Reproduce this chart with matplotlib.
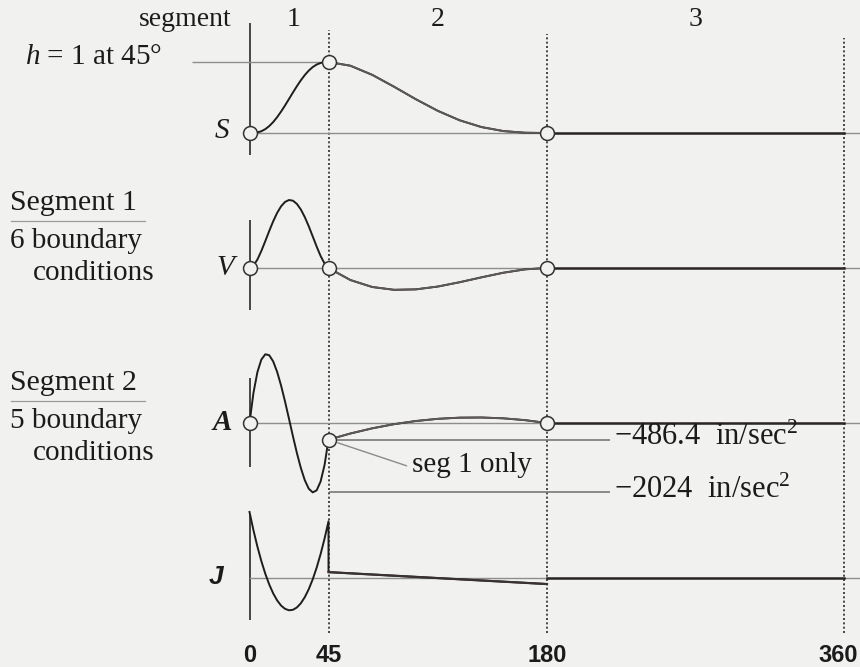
import numpy as np
import matplotlib
matplotlib.use("Agg")
import matplotlib.pyplot as plt
from matplotlib.lines import Line2D

plt.rcParams['font.family'] = ['Liberation Serif', 'DejaVu Serif']
plt.rcParams['mathtext.fontset'] = 'custom'
plt.rcParams['mathtext.rm'] = 'Liberation Serif'
plt.rcParams['mathtext.it'] = 'Liberation Serif:italic'
plt.rcParams['mathtext.bf'] = 'Liberation Serif:bold'

# ---------------- data ----------------
# cam angle, degrees
THETA1 = [0, 2.25, 4.5, 6.75, 9, 11.25, 13.5, 15.75, 18, 20.25, 22.5,
          24.75, 27, 29.25, 31.5, 33.75, 36, 38.25, 40.5, 42.75, 45]
THETA2 = [45, 58.5, 72, 85.5, 99, 112.5, 126, 139.5, 153, 166.5, 180]
THETA3 = [180, 360]
THETA_J2 = [45, 180]

# displacement, in
S1 = [0, 0.0011, 0.0080, 0.0250, 0.0545, 0.0977, 0.1543, 0.2231, 0.3021, 0.3885, 0.4792,
      0.5707, 0.6595, 0.7424, 0.8163, 0.8789, 0.9284, 0.9642, 0.9866, 0.9974, 1.0]
S2 = [1.0, 0.9477, 0.8192, 0.6517, 0.4752, 0.3125, 0.1792, 0.0837, 0.0272, 0.0037, 0.0]
S3 = [0, 0]
# velocity, in/sec
V1 = [0, 1.21, 4.35, 8.77, 13.85, 19.10, 24.06, 28.39, 31.78, 34.03, 35.01,
      34.66, 33.00, 30.12, 26.20, 21.49, 16.30, 11.04, 6.19, 2.30, 0]
V2 = [0, -6.19, -9.78, -11.23, -11.00, -9.55, -7.33, -4.81, -2.44, -0.69, 0]
V3 = [0, 0]
# acceleration, in/sec^2
A1 = [0, 876.6, 1483.4, 1849.3, 2003.7, 1975.8, 1794.6, 1489.4, 1089.4, 623.7, 121.6,
      -387.9, -875.4, -1311.9, -1668.2, -1915.0, -2023.2, -1963.6, -1707.1, -1224.4, -486.4]
A2 = [-486.4, -306.4, -155.6, -34.0, 58.4, 121.6, 155.6, 160.5, 136.2, 82.7, 0]
A3 = [0, 0]
# jerk, thousands of in/sec^3
J1 = [390.1, 281.4, 183.9, 97.5, 22.3, -41.8, -94.7, -136.5, -167.2, -186.7, -195.1,
      -192.3, -178.3, -153.3, -117.0, -69.7, -11.1, 58.5, 139.3, 231.3, 334.4]
J2 = [32, -39]
J3 = [0, 0]

BOUNDARIES = [45, 180, 360]
TICKS = [0, 45, 180, 360]
TICK_LABELS = ['0', '45', '180', '360']
A_MARKS = [-486.4, -2024]
A_MARK_LABELS = ['\u2212486.4  in/sec$^2$', '\u22122024  in/sec$^2$']
SEG_LABELS = ['1', '2', '3']

# ---------------- layout ----------------
W, H = 860, 667
BG = '#f1f1ef'
INK = '#1b1b1b'
fig = plt.figure(figsize=(W / 100, H / 100), dpi=100, facecolor=BG)

TK = np.array([0.0, 45.0, 180.0, 360.0])
PK = np.array([249.5, 328.5, 547.0, 844.0])
S0 = (PK[1] - PK[0]) / (TK[1] - TK[0])
SE = (PK[-1] - PK[-2]) / (TK[-1] - TK[-2])


def fwd(t):
    t = np.asarray(t, dtype=float)
    p = np.interp(t, TK, PK)
    p = np.where(t < TK[0], PK[0] + (t - TK[0]) * S0, p)
    p = np.where(t > TK[-1], PK[-1] + (t - TK[-1]) * SE, p)
    return p


def inv(p):
    p = np.asarray(p, dtype=float)
    t = np.interp(p, PK, TK)
    t = np.where(p < PK[0], TK[0] + (p - PK[0]) / S0, t)
    t = np.where(p > PK[-1], TK[-1] + (p - PK[-1]) / SE, t)
    return t


XMIN, XMAX = float(inv(0)), float(inv(W))


def fx(px):
    return px / W


def fy(py):
    return 1 - py / H


# overlay for dotted segment boundaries
ov = fig.add_axes([0, 0, 1, 1])
ov.set_xscale('function', functions=(fwd, inv))
ov.set_xlim(XMIN, XMAX)
ov.set_ylim(0, 1)
ov.axis('off')
for b, top in zip(BOUNDARIES, [30, 34, 38]):
    ov.axvline(b, ymin=fy(633), ymax=fy(top), color='#2a2a2a', lw=1.2,
               ls=(0, (1.2, 1.4)), zorder=1)


def panel(top, bottom, base, scale):
    ax = fig.add_axes([0, fy(bottom), 1, (bottom - top) / H])
    ax.set_xscale('function', functions=(fwd, inv))
    ax.set_xlim(XMIN, XMAX)
    ax.set_ylim(-(bottom - base) / scale, (base - top) / scale)
    ax.set_frame_on(False)
    ax.set_yticks([])
    ax.set_xticks([])
    ax.axvline(0, color='#2a2a2a', lw=1.2, zorder=2)
    ax.axhline(0, xmin=fx(PK[0]), xmax=1, color='#8e8e8e', lw=1.0, zorder=2)
    return ax


def curves(ax, y1, y2, y3, t2=THETA2):
    ax.plot(THETA1 + list(t2), list(y1) + list(y2), color='#1e1e1e', lw=1.4,
            zorder=3, clip_on=False, solid_joinstyle='round')
    ax.plot(t2, y2, color='#5e5a58', lw=1.3, zorder=3, clip_on=False)
    ax.plot(THETA3, y3, color='#2b2626', lw=1.8, zorder=3, clip_on=False)


def circles(ax, xs, ys):
    ax.plot(xs, ys, ls='none', marker='o', ms=10, mfc=BG, mec='#333333',
            mew=1.1, zorder=5, clip_on=False)


# S panel
axS = panel(23, 155, 133, 71.0)
curves(axS, S1, S2, S3)
axS.hlines(1.0, inv(192), 45, color='#8e8e8e', lw=1.0, zorder=2)
circles(axS, [0, 45, 180], [S1[0], S1[-1], S2[-1]])

# V panel
axV = panel(220, 310, 268, 1.942)
curves(axV, V1, V2, V3)
circles(axV, [0, 45, 180], [V1[0], V1[-1], V2[-1]])

# A panel
axA = panel(378, 467, 423, 0.0343)
curves(axA, A1, A2, A3)
for m in A_MARKS:
    axA.hlines(m, 45, inv(610), color='#6e6e6e', lw=1.1, zorder=2, clip_on=False)
circles(axA, [0, 45, 180], [A1[0], A1[-1], A2[-1]])
axA.annotate('seg 1 only', xy=(45, A1[-1]), xytext=(fx(412), fy(465)),
             textcoords='figure fraction', ha='left', va='center', fontsize=21,
             color=INK, arrowprops=dict(arrowstyle='-', color='#8a8a8a', lw=1.0,
                                        shrinkA=2, shrinkB=7, relpos=(0, 0.4)))

# J panel
axJ = panel(515, 620, 577.5, 0.168)
axJ.plot(THETA1 + THETA_J2, J1 + J2, color='#1e1e1e', lw=1.4, zorder=3, clip_on=False)
axJ.plot(THETA_J2, J2, color='#3a3232', lw=1.6, zorder=3, clip_on=False)
axJ.plot(THETA3, J3, color='#2b2626', lw=1.8, zorder=3, clip_on=False)

# angle labels under the J panel (last one nudged so it stays inside the figure)
for t, lab, dx in zip(TICKS, TICK_LABELS, [0, 0, 0, -4]):
    axJ.annotate(lab, xy=(t, 0), xycoords=('data', 'axes fraction'),
                 xytext=(dx, -17), textcoords='offset points', ha='center', va='top',
                 fontsize=17, fontweight='bold', color=INK,
                 family=['Liberation Sans Narrow', 'Liberation Sans', 'DejaVu Sans'],
                 annotation_clip=False)

# ---------------- texts ----------------
def ftext(px, py, s, **kw):
    kw.setdefault('color', INK)
    kw.setdefault('va', 'center')
    fig.text(fx(px), fy(py), s, **kw)


ftext(231, 20, 'segment', ha='right', fontsize=20)
for lab, t in zip(SEG_LABELS, [25, 112.5, 270]):
    ftext(float(fwd(t)), 20, lab, ha='center', fontsize=20)
ftext(25, 57, '$h$ = 1 at 45\u00b0', ha='left', fontsize=21)

ftext(222, 131, 'S', ha='center', fontsize=21, style='italic')
ftext(225, 268, 'V', ha='center', fontsize=21, style='italic')
ftext(222, 423, 'A', ha='center', fontsize=21, style='italic', weight='bold')
ftext(216, 577, 'J', ha='center', fontsize=19, style='italic', weight='bold',
      family=['Liberation Sans', 'DejaVu Sans'])

for (l1, l2), yb in zip([('Segment 1', '6 boundary'), ('Segment 2', '5 boundary')], [203, 383]):
    ftext(10, yb, l1, ha='left', fontsize=21.5)
    fig.add_artist(Line2D([fx(11), fx(145)], [fy(yb + 18), fy(yb + 18)],
                          transform=fig.transFigure, color='#9a9a9a', lw=0.9))
    ftext(10, yb + 38, l2, ha='left', fontsize=21)
    ftext(33, yb + 70, 'conditions', ha='left', fontsize=21)

for s, yc in zip(A_MARK_LABELS, [437, 490]):
    ftext(614, yc, s, ha='left', fontsize=22)

fig.savefig('out.png', dpi=100, facecolor=BG)
